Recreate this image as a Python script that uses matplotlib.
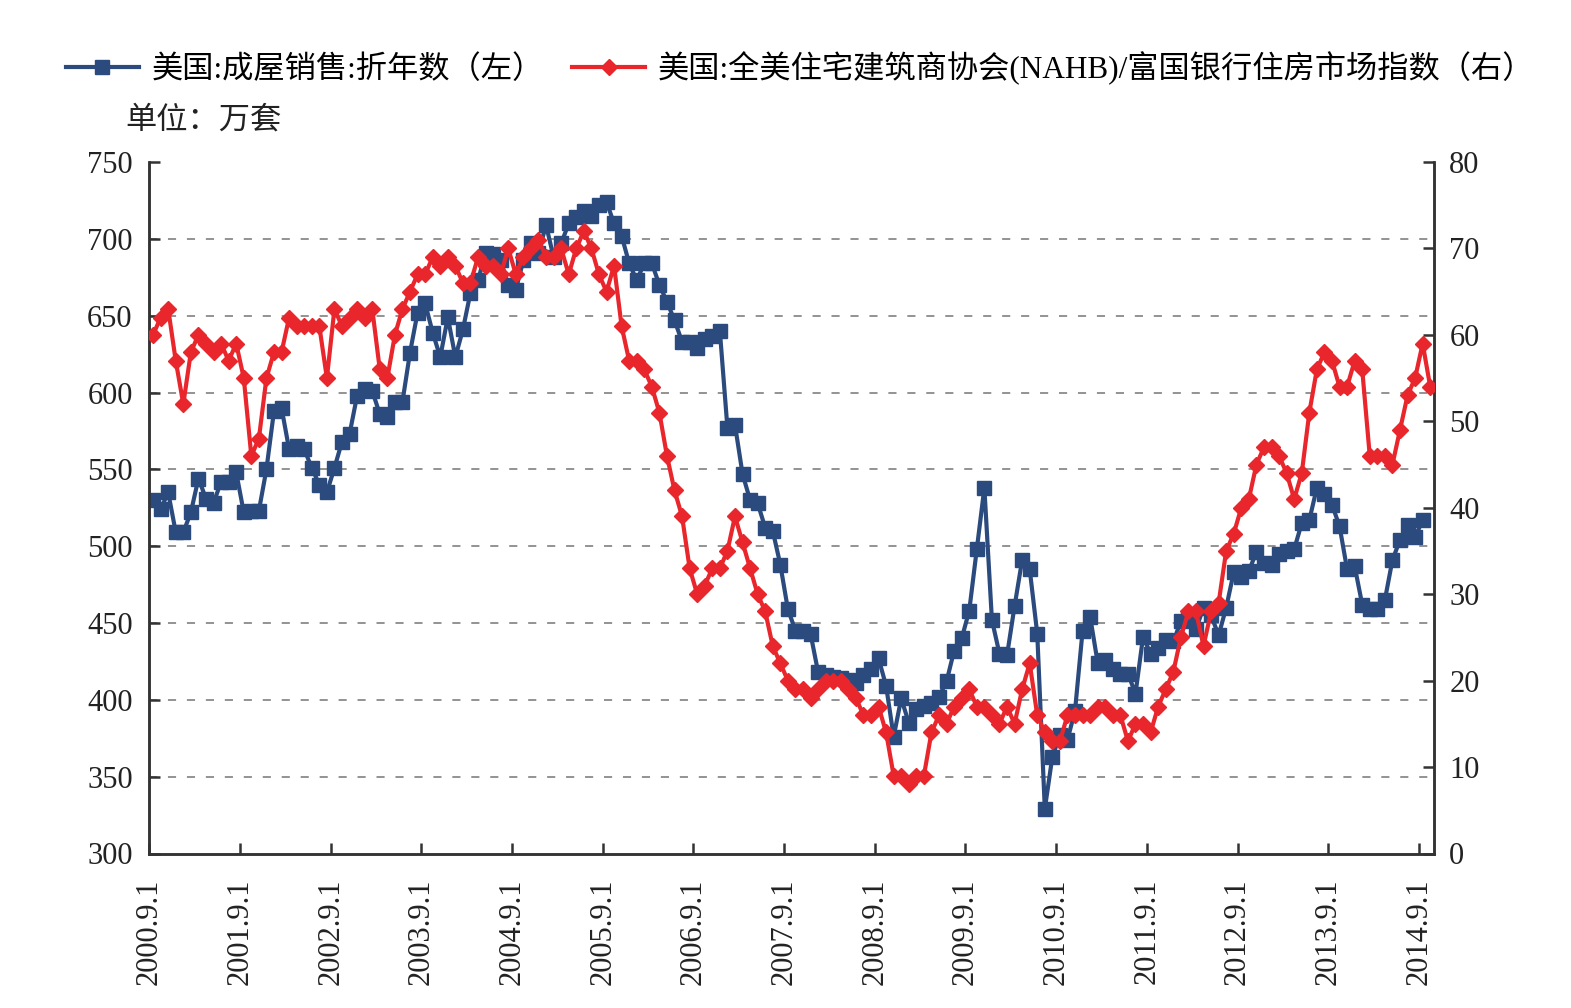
import numpy as np
import matplotlib
matplotlib.use('Agg')
import matplotlib.pyplot as plt

plt.rcParams['font.family'] = ['Liberation Serif', 'Noto Sans CJK SC']

# 美国成屋销售折年数 (万套), monthly 2000.9 - 2014.9
sales = [530, 524, 535, 509, 509, 522, 544, 531, 528, 542, 542, 548,
         522, 523, 523, 550, 588, 590, 563, 565, 563, 551, 540, 535,
         551, 568, 573, 598, 602, 601, 586, 584, 594, 594, 626, 652,
         658, 639, 623, 649, 623, 641, 665, 673, 691, 690, 686, 670,
         667, 686, 697, 691, 709, 688, 697, 710, 714, 718, 715, 722,
         724, 710, 702, 684, 673, 684, 684, 670, 659, 647, 633, 633,
         629, 635, 637, 640, 577, 579, 547, 530, 528, 512, 510, 488,
         459, 445, 445, 443, 418, 416, 415, 414, 413, 411, 416, 420,
         427, 409, 376, 401, 385, 394, 396, 398, 402, 412, 432, 440,
         458, 498, 538, 452, 430, 429, 461, 491, 485, 443, 329, 363,
         377, 374, 393, 445, 454, 424, 426, 420, 417, 417, 404, 441,
         430, 434, 439, 438, 451, 452, 446, 460, 455, 442, 460, 483,
         480, 484, 496, 489, 488, 495, 497, 498, 515, 517, 538, 534,
         527, 513, 485, 487, 462, 459, 459, 465, 491, 504, 514, 506,
         517]

# NAHB/富国银行住房市场指数, monthly 2000.9 - 2014.10
nahb = [60, 62, 63, 57, 52, 58, 60, 59, 58, 59, 57, 59,
        55, 46, 48, 55, 58, 58, 62, 61, 61, 61, 61, 55,
        63, 61, 62, 63, 62, 63, 56, 55, 60, 63, 65, 67,
        67, 69, 68, 69, 68, 66, 66, 69, 68, 68, 67, 70,
        67, 69, 70, 71, 69, 69, 70, 67, 70, 72, 70, 67,
        65, 68, 61, 57, 57, 56, 54, 51, 46, 42, 39, 33,
        30, 31, 33, 33, 35, 39, 36, 33, 30, 28, 24, 22,
        20, 19, 19, 18, 19, 20, 20, 20, 19, 18, 16, 16,
        17, 14, 9, 9, 8, 9, 9, 14, 16, 15, 17, 18,
        19, 17, 17, 16, 15, 17, 15, 19, 22, 16, 14, 13,
        13, 16, 16, 16, 16, 17, 17, 16, 16, 13, 15, 15,
        14, 17, 19, 21, 25, 28, 28, 24, 28, 29, 35, 37,
        40, 41, 45, 47, 47, 46, 44, 41, 44, 51, 56, 58,
        57, 54, 54, 57, 56, 46, 46, 46, 45, 49, 53, 55,
        59, 54]

year_labels = ['2000.9.1', '2001.9.1', '2002.9.1', '2003.9.1', '2004.9.1',
               '2005.9.1', '2006.9.1', '2007.9.1', '2008.9.1', '2009.9.1',
               '2010.9.1', '2011.9.1', '2012.9.1', '2013.9.1', '2014.9.1']

blue = '#2B4A7D'
red = '#E8262C'
axis_col = '#333333'

fig = plt.figure(figsize=(15.71, 10.08), dpi=100)
ax = fig.add_axes([149.3 / 1571, 1 - 853.5 / 1008,
                   (1434 - 149.3) / 1571, (853.5 - 162) / 1008])
ax2 = ax.twinx()

l1, = ax.plot(np.arange(len(sales)), sales, color=blue, lw=3,
              marker='s', ms=10, zorder=3)
l2, = ax2.plot(np.arange(len(nahb)), nahb, color=red, lw=3,
               marker='D', ms=8, zorder=3)

ax.set_xlim(-0.5, 169.5)
ax.set_ylim(300, 750)
ax.set_yticks(np.arange(300, 751, 50))
ax2.set_ylim(0, 80)
ax2.set_yticks(np.arange(0, 81, 10))
ax.set_xticks(np.arange(len(year_labels)) * 12 - 0.5)
ax.set_xticklabels(year_labels, rotation=90, va='top', ha='center')

# dashed grid lines between the end ticks
for v in ax.get_yticks()[1:-1]:
    ax.axhline(v, color='#8a8a8a', lw=1.3, ls=(0, (4.5, 6)), zorder=1)

for a in (ax, ax2):
    a.spines['top'].set_visible(False)
    for s in ('left', 'right', 'bottom'):
        a.spines[s].set_color(axis_col)
        a.spines[s].set_linewidth(1.8)
    a.tick_params(direction='in', length=8, width=1.8, colors=axis_col,
                  labelcolor='#222222', labelsize=22)
ax.tick_params(axis='y', pad=12)
ax.tick_params(axis='x', pad=18)
ax2.tick_params(axis='y', pad=11)

fig.legend([l1, l2],
           ['美国:成屋销售:折年数（左）',
            '美国:全美住宅建筑商协会(NAHB)/富国银行住房市场指数（右）'],
           loc='center left', bbox_to_anchor=(50 / 1571, 1 - 68 / 1008),
           ncol=2, frameon=False, fontsize=22.5, borderpad=0,
           handlelength=2.35, handletextpad=0.4, columnspacing=0.9,
           numpoints=1)

fig.text(125 / 1571, 1 - 121 / 1008, '单位：万套', fontsize=22.5,
         va='center', ha='left', color='#222222')

fig.savefig('out.png', dpi=100)
